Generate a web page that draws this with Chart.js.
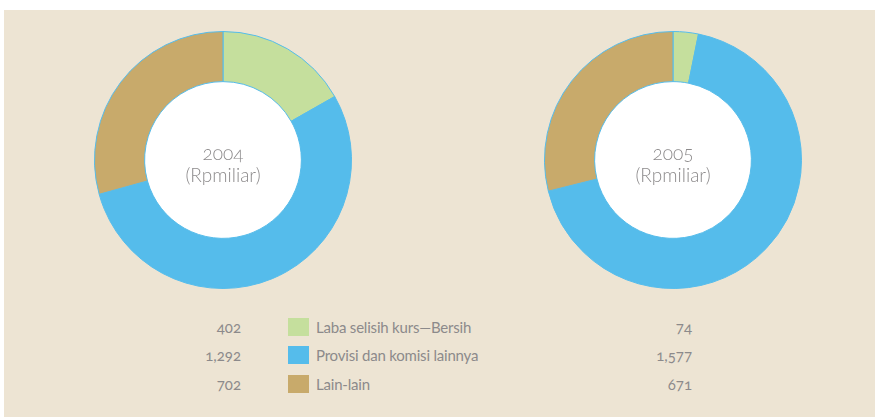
<!DOCTYPE html>
<html>
<head>
<meta charset="utf-8">
<script src="https://cdn.jsdelivr.net/npm/chart.js@4.4.1/dist/chart.umd.min.js"></script>
<style>
  html, body { margin: 0; padding: 0; background: #fff; }
  body { width: 875px; height: 417px; position: relative; overflow: hidden;
         font-family: Lato, "Open Sans", sans-serif; color: #8c8a8b;
         font-feature-settings: "onum"; }
  #panel { position: absolute; left: 4px; top: 10px; right: 0; bottom: 0; background: #ede4d3; }
  .pie { position: absolute; top: 31px; width: 258px; height: 258px; }
  .center { position: absolute; left: 0; right: 0; top: 111px; text-align: center;
            font-size: 19px; font-weight: 300; line-height: 22px; color: #8c8a8b; pointer-events: none; }
  .num { position: absolute; width: 80px; text-align: right; font-size: 15px; line-height: 18px; }
  .sw { position: absolute; left: 288px; width: 21px; height: 18px; }
  .lab { position: absolute; left: 316px; font-size: 15px; line-height: 18px; white-space: nowrap; letter-spacing: -0.2px; }
</style>
</head>
<body>
<div id="panel"></div>
<div class="pie" id="pie0" style="left:94px"><canvas id="c0" width="258" height="258"></canvas><div class="center" id="t0"></div></div>
<div class="pie" id="pie1" style="left:544px"><canvas id="c1" width="258" height="258"></canvas><div class="center" id="t1"></div></div>
<div id="legend"></div>
<script>
// Komposisi pendapatan operasional lainnya, Rp miliar
const years = ['2004', '2005'];
const unit = '(Rpmiliar)';
const categories = ['Laba selisih kurs\u2014Bersih', 'Provisi dan komisi lainnya', 'Lain-lain'];
const values2004 = [402, 1292, 702];
const values2005 = [74, 1577, 671];
const colors = ['#c5df9d', '#55bceb', '#c8aa6b'];

const ROW_TOPS = [318, 346, 375];

// paint the donut hole white
const holeFill = {
  id: 'holeFill',
  beforeDatasetsDraw(chart) {
    const arc = chart.getDatasetMeta(0).data[0];
    if (!arc) return;
    const { ctx } = chart;
    ctx.save();
    ctx.fillStyle = '#ffffff';
    ctx.beginPath();
    ctx.arc(arc.x, arc.y, arc.innerRadius, 0, Math.PI * 2);
    ctx.fill();
    ctx.restore();
  }
};

function makeDonut(id, values) {
  return new Chart(document.getElementById(id), {
    type: 'doughnut',
    data: {
      labels: categories,
      datasets: [{
        data: values,
        backgroundColor: colors,
        borderColor: '#55bceb',
        borderWidth: 1
      }]
    },
    options: {
      responsive: false,
      animation: false,
      cutout: '61%',
      layout: { padding: 0 },
      plugins: { legend: { display: false }, tooltip: { enabled: false } }
    },
    plugins: [holeFill]
  });
}

makeDonut('c0', values2004);
makeDonut('c1', values2005);

document.getElementById('t0').innerHTML = years[0] + '<br>' + unit;
document.getElementById('t1').innerHTML = years[1] + '<br>' + unit;

const fmt = v => v.toLocaleString('en-US');
let html = '';
categories.forEach((c, i) => {
  const top = ROW_TOPS[i];
  html += `<div class="num" style="left:161px;top:${top}px">${fmt(values2004[i])}</div>`;
  html += `<div class="sw" style="top:${top}px;background:${colors[i]}"></div>`;
  html += `<div class="lab" style="top:${top}px">${c}</div>`;
  html += `<div class="num" style="left:612px;top:${top}px">${fmt(values2005[i])}</div>`;
});
document.getElementById('legend').innerHTML = html;
</script>
</body>
</html>
